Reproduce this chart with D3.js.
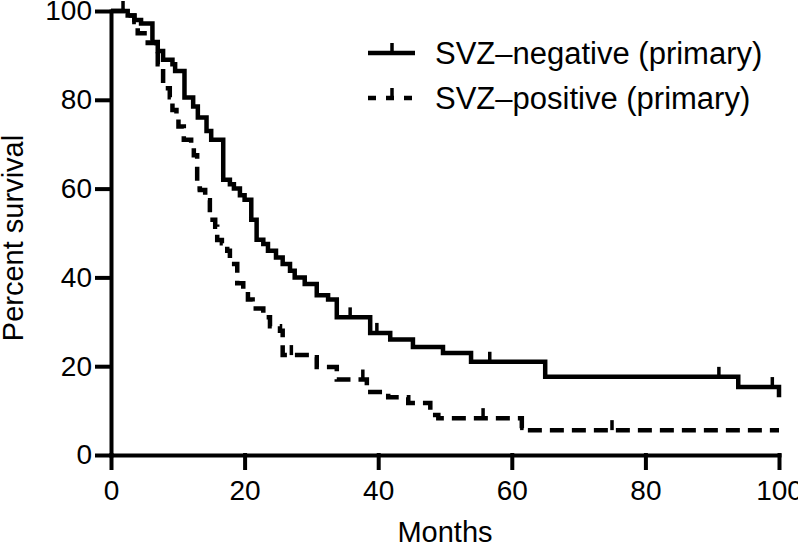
<!DOCTYPE html>
<html>
<head>
<meta charset="utf-8">
<script src="https://cdn.jsdelivr.net/npm/d3@7"></script>
<style>
  body { margin: 0; background: #fff; }
  text { font-family: "Liberation Sans", Arial, sans-serif; fill: #000; }
</style>
</head>
<body>
<div id="chart"></div>
<script>
// Kaplan-Meier steps: [month, percent surviving after the step]
var negSteps = [
  [0, 100], [2.5, 99], [3.5, 98], [4.5, 97.2], [6.2, 93], [7, 91], [7.8, 89],
  [9.2, 88], [9.6, 86.5], [11, 80.5], [12.3, 78.5], [13, 76], [14.3, 73],
  [15, 71], [16.8, 62], [17.8, 61], [18.4, 60], [19.3, 58.5], [20, 57.5],
  [21, 53], [21.8, 48.5], [22.8, 47.5], [23.5, 46], [24.7, 44.5], [25.7, 43],
  [26.8, 41.5], [27.5, 40], [29, 38.5], [30.8, 36], [32.5, 35], [33.8, 31],
  [38.8, 27.5], [41.8, 26], [45.2, 24.3], [49.7, 23], [53.9, 21], [65, 17.6],
  [93.9, 15.3], [100, 13]
];
var posSteps = [
  [0, 100], [2.5, 99], [3.5, 97.5], [4, 95], [5.5, 92.8], [6.8, 91], [7, 88],
  [7.8, 82.6], [8.8, 80.6], [9.2, 77.7], [9.8, 76], [10.1, 74], [10.9, 71],
  [12, 69.4], [12.4, 67.5], [12.9, 60], [13.3, 59.7], [14.1, 57.4], [14.8, 53],
  [15.6, 51.4], [15.9, 48.4], [16.6, 47.7], [17.4, 46], [17.8, 43], [18.9, 38.7],
  [19.8, 37], [20.5, 35], [21.2, 33], [22.8, 31], [23.8, 29], [25.3, 28],
  [25.7, 22.5], [29.8, 22], [30.8, 19.8], [33.8, 17], [38.3, 14.2], [41.5, 13],
  [44.5, 11.7], [47.8, 9], [49, 8.3], [61.5, 5.6], [100, 5.6]
];
// censored observations (months)
var negCensored = [1.8, 35.8, 39.8, 56.7, 91, 99];
var posCensored = [27, 37.7, 55.7, 61.5, 75];

var seriesNames = ["SVZ\u2013negative (primary)", "SVZ\u2013positive (primary)"];
var xTicks = [0, 20, 40, 60, 80, 100];
var yTicks = [0, 20, 40, 60, 80, 100];

function draw_survival() {
    var width = 798, height = 547;
    var margin = {left: 111, right: 19, top: 11, bottom: 92};

    var svg = d3.select("#chart").append("svg")
        .attr("width", width)
        .attr("height", height)
        .style("background-color", "white");

    var x = d3.scaleLinear().domain([0, 100]).range([margin.left, width - margin.right]);
    var y = d3.scaleLinear().domain([0, 100]).range([height - margin.bottom, margin.top]);

    // axes
    var xAxis = svg.append("g")
        .attr("transform", "translate(0," + y(0) + ")")
        .call(d3.axisBottom(x).tickValues(xTicks).tickSize(13).tickSizeOuter(0).tickPadding(12));
    var yAxis = svg.append("g")
        .attr("transform", "translate(" + x(0) + ",0)")
        .call(d3.axisLeft(y).tickValues(yTicks).tickSize(14).tickSizeOuter(0).tickPadding(5));

    [xAxis, yAxis].forEach(function(ax) {
        ax.selectAll("path, line")
            .attr("stroke", "#000")
            .attr("stroke-width", 4)
            .attr("stroke-linecap", "square");
        ax.selectAll("text")
            .style("font-size", "28px")
            .style("font-family", "Liberation Sans, Arial, sans-serif");
    });

    svg.append("text")
        .attr("x", x(50))
        .attr("y", 542)
        .attr("text-anchor", "middle")
        .style("font-size", "29px")
        .text("Months");

    svg.append("text")
        .attr("transform", "translate(23,238) rotate(-90)")
        .attr("text-anchor", "middle")
        .style("font-size", "29px")
        .text("Percent survival");

    // step curves
    var line = d3.line()
        .curve(d3.curveStepAfter)
        .x(function(d) { return x(d[0]); })
        .y(function(d) { return y(d[1]); });

    function valueAt(steps, t) {
        var v = steps[0][1];
        steps.forEach(function(d) { if (d[0] <= t) v = d[1]; });
        return v;
    }

    var curves = [
        {steps: negSteps, censored: negCensored, dash: null},
        {steps: posSteps, censored: posCensored, dash: "14,8"}
    ];

    curves.forEach(function(c) {
        svg.append("path")
            .datum(c.steps)
            .attr("d", line)
            .attr("fill", "none")
            .attr("stroke", "#000")
            .attr("stroke-width", 4.5)
            .attr("stroke-dasharray", c.dash);

        svg.append("g")
            .selectAll("line")
            .data(c.censored)
            .enter()
            .append("line")
            .attr("x1", function(d) { return x(d); })
            .attr("x2", function(d) { return x(d); })
            .attr("y1", function(d) { return y(valueAt(c.steps, d)); })
            .attr("y2", function(d) { return y(valueAt(c.steps, d)) - 10; })
            .attr("stroke", "#000")
            .attr("stroke-width", 3.5);
    });

    // legend
    var legend = svg.append("g").attr("class", "legend");
    curves.forEach(function(c, i) {
        var ly = 53 + i * 45;
        legend.append("line")
            .attr("x1", 368).attr("x2", 415)
            .attr("y1", ly).attr("y2", ly)
            .attr("stroke", "#000")
            .attr("stroke-width", 4.5)
            .attr("stroke-dasharray", c.dash ? "8,10" : null);
        legend.append("line")
            .attr("x1", 392).attr("x2", 392)
            .attr("y1", ly).attr("y2", ly - 10)
            .attr("stroke", "#000")
            .attr("stroke-width", 3.5);
        legend.append("text")
            .attr("x", 435)
            .attr("y", ly + 11)
            .style("font-size", "31px")
            .text(seriesNames[i]);
    });
}

draw_survival();
</script>
</body>
</html>
